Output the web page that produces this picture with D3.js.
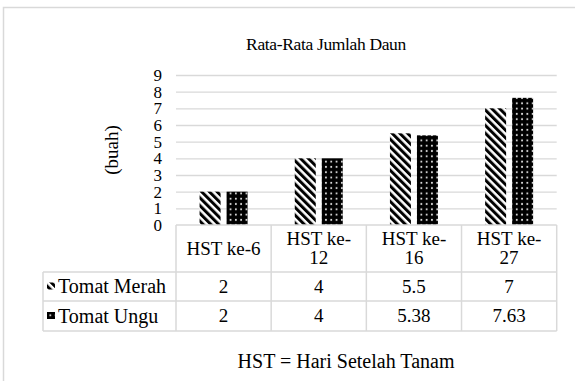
<!DOCTYPE html>
<html><head><meta charset="utf-8">
<script src="https://cdn.jsdelivr.net/npm/d3@7"></script>
<style>
html,body{margin:0;padding:0;background:#fff;}
svg text{font-family:"Liberation Serif","Tinos","Times New Roman","DejaVu Serif",serif;}
</style></head>
<body><svg id="c" width="575" height="381"></svg>
<script>
const title = "Rata-Rata Jumlah Daun";
const yAxisTitle = "(buah)";
const footnote = "HST = Hari Setelah Tanam";
const categories = ["HST ke-6", "HST ke-12", "HST ke-16", "HST ke-27"];
const seriesNames = ["Tomat Merah", "Tomat Ungu"];
const tomatMerah = [2, 4, 5.5, 7];
const tomatUngu = [2, 4, 5.38, 7.63];
const tableMerah = ["2", "4", "5.5", "7"];
const tableUngu = ["2", "4", "5.38", "7.63"];
const yTicks = [0, 1, 2, 3, 4, 5, 6, 7, 8, 9];

const svg = d3.select("#c");
const grid = "#d9d9d9";
const plot = {left: 176, right: 556.7, top: 75, bottom: 225};
const fs = 19;
const fsTitle = 17.5;
const fsTick = 17;
const fsRow = 20;

// patterns
const defs = svg.append("defs");
const pStripe = defs.append("pattern").attr("id","stripe").attr("patternUnits","userSpaceOnUse")
  .attr("width",5.5).attr("height",5.5).attr("patternTransform","rotate(-45)");
pStripe.append("rect").attr("width",5.5).attr("height",5.5).attr("fill","#fff");
pStripe.append("rect").attr("width",3).attr("height",5.5).attr("fill","#000");
const pDot = defs.append("pattern").attr("id","dots").attr("patternUnits","userSpaceOnUse")
  .attr("width",5.3).attr("height",5.3);
pDot.append("rect").attr("width",5.3).attr("height",5.3).attr("fill","#000");
pDot.append("circle").attr("cx",2.65).attr("cy",2.65).attr("r",1).attr("fill","#ddd");
const fills = ["url(#stripe)", "url(#dots)"];

// outer border
svg.append("rect").attr("x",3.5).attr("y",7.5).attr("width",640).attr("height",440)
  .attr("fill","#fff").attr("stroke",grid).attr("stroke-width",1.5);

// title
svg.append("text").attr("x",326).attr("y",50).attr("text-anchor","middle")
  .attr("font-size",fsTitle).attr("letter-spacing",-0.35).text(title);

const y = d3.scaleLinear().domain([0,9]).range([plot.bottom, plot.top]);
const x0 = d3.scaleBand().domain(categories).range([plot.left, plot.right]).paddingInner(0).paddingOuter(0);
const bw = 21, gap = 6;
const x1 = d3.scaleBand().domain(seriesNames).range([0, bw*2+gap]).paddingInner(gap/(bw+gap)).paddingOuter(0);

// gridlines + tick labels
const yAxis = d3.axisLeft(y).tickValues(yTicks).tickSize(0).tickPadding(0);
const gA = svg.append("g").attr("transform",`translate(${plot.left},0)`).call(yAxis);
gA.attr("font-family",null).attr("font-size",null);
gA.select(".domain").remove();
gA.selectAll(".tick line").remove();
gA.selectAll(".tick").filter(d=>d>0).append("line")
  .attr("x1",0).attr("x2",plot.right-plot.left).attr("stroke",grid).attr("stroke-width",1.3);
gA.selectAll(".tick text").attr("x",-14).attr("font-size",fsTick)
  .attr("fill","#000").attr("dy","0.32em");

// y axis title
svg.append("text").attr("transform",`translate(118,${(plot.top+plot.bottom)/2}) rotate(-90)`)
  .attr("text-anchor","middle").attr("font-size",fs).text(yAxisTitle);

// bars
const series = [tomatMerah, tomatUngu];
const groups = svg.append("g");
series.forEach((vals, si) => {
  groups.selectAll(null).data(vals).enter().append("rect")
    .attr("x",(d,i)=>x0(categories[i]) + (x0.bandwidth()-(bw*2+gap))/2 + x1(seriesNames[si]))
    .attr("y",d=>y(d)).attr("width",x1.bandwidth()).attr("height",d=>y(0)-y(d))
    .attr("fill",fills[si]);
});

// table
const tbl = svg.append("g");
const hdrTop = 225, hdrBot = 272, r1Bot = 301, r2Bot = 331, legLeft = 43;
const lineStyle = s => s.attr("stroke",grid).attr("stroke-width",1.5);
lineStyle(tbl.append("line").attr("x1",plot.left).attr("x2",plot.right).attr("y1",hdrTop).attr("y2",hdrTop));
[hdrBot, r1Bot, r2Bot].forEach(yy => lineStyle(tbl.append("line").attr("x1",legLeft).attr("x2",plot.right).attr("y1",yy).attr("y2",yy)));
lineStyle(tbl.append("line").attr("x1",legLeft).attr("x2",legLeft).attr("y1",hdrBot).attr("y2",r2Bot));
categories.forEach(c => {
  const xx = x0(c);
  lineStyle(tbl.append("line").attr("x1",xx).attr("x2",xx).attr("y1",hdrTop).attr("y2",r2Bot));
});
lineStyle(tbl.append("line").attr("x1",plot.right).attr("x2",plot.right).attr("y1",hdrTop).attr("y2",r2Bot));

// header labels with wrapping
categories.forEach(c => {
  const cx = x0(c) + x0.bandwidth()/2;
  const t = tbl.append("text").attr("x",cx).attr("text-anchor","middle").attr("font-size",fs);
  const lines = c.length > 8 ? [c.slice(0, c.indexOf("-")+1), c.slice(c.indexOf("-")+1)] : [c];
  const lh = 19;
  const mid = (hdrTop+hdrBot)/2;
  lines.forEach((ln, k) => {
    t.append("tspan").attr("x",cx).attr("y", mid + (k - (lines.length-1)/2)*lh + fs*0.33).text(ln);
  });
});

// rows
const rows = [tableMerah, tableUngu];
const rowTops = [hdrBot, r1Bot], rowBots = [r1Bot, r2Bot];
rows.forEach((vals, ri) => {
  const mid = (rowTops[ri]+rowBots[ri])/2;
  tbl.append("rect").attr("x",47).attr("y",mid-4).attr("width",8).attr("height",7).attr("fill",fills[ri]);
  tbl.append("text").attr("x",58).attr("y",mid+fsRow*0.33).attr("font-size",fsRow).text(seriesNames[ri]);
  vals.forEach((v,i) => {
    tbl.append("text").attr("x",x0(categories[i])+x0.bandwidth()/2).attr("y",mid+fs*0.33)
      .attr("text-anchor","middle").attr("font-size",fs).text(v);
  });
});

// footnote
svg.append("text").attr("x",346).attr("y",368).attr("text-anchor","middle").attr("font-size",fsRow).text(footnote);
</script></body></html>
